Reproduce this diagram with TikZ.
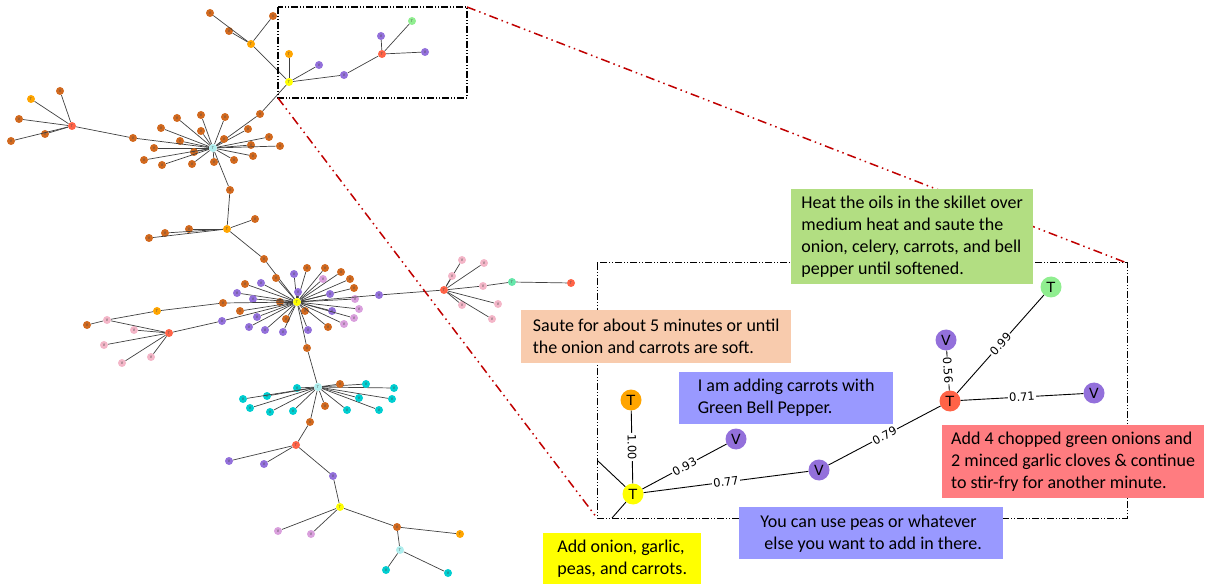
\documentclass[tikz,border=0pt]{standalone}
\usepackage{fontspec}
\setmainfont{Carlito}
\newfontfamily\djv{DejaVu Sans}
\usepackage{tikz}
\usetikzlibrary{calc}

\definecolor{brn}{RGB}{210,105,30}
\definecolor{pur}{RGB}{147,112,219}
\definecolor{pnk}{RGB}{244,182,200}
\definecolor{plm}{RGB}{218,160,221}
\definecolor{tea}{RGB}{0,206,209}
\definecolor{cya}{RGB}{175,238,238}
\definecolor{aqm}{RGB}{102,230,170}
\definecolor{org}{RGB}{255,165,0}
\definecolor{yel}{RGB}{255,255,0}
\definecolor{tom}{RGB}{255,99,71}
\definecolor{lgr}{RGB}{144,238,144}
\definecolor{boxgreen}{RGB}{178,222,130}
\definecolor{boxsalmon}{RGB}{248,203,173}
\definecolor{boxblue}{RGB}{153,153,255}
\definecolor{boxred}{RGB}{255,124,128}
\definecolor{zoomred}{RGB}{192,0,0}

\begin{document}
\begin{tikzpicture}[x=1pt, y=-1pt,
  dot/.style={circle, inner sep=0pt, minimum size=8pt, text=black!70, font=\djv\fontsize{3.5}{4}\selectfont},
  big/.style={circle, inner sep=0pt, minimum size=21pt, font=\djv\fontsize{14}{14}\selectfont},
  tie/.style={draw=black!75, line width=0.7pt},
  line/.style={draw=black, line width=0.9pt},
  weight/.style={sloped, fill=white, inner sep=1.2pt, font=\djv\fontsize{11.5}{12}\selectfont},
  note/.style={anchor=north west, align=left, inner xsep=9pt, font=\fontsize{18}{22}\selectfont},
  frame/.style={draw=black, line width=1pt, dash pattern=on 7pt off 2pt on 1pt off 2pt on 1pt off 2pt},
  zoomline/.style={draw=zoomred, line width=1.5pt, dash pattern=on 9pt off 4pt on 1.5pt off 4pt on 1.5pt off 4pt}]
  \useasboundingbox (0,0) rectangle (1208,585);

  \node[dot, fill=org] (oT1) at (251,44) {T};
  \node[dot, fill=brn] (b1) at (210,13) {V};
  \node[dot, fill=brn] (b2) at (229,31) {V};
  \node[dot, fill=brn] (b3) at (273,16) {V};
  \node[dot, fill=yel] (yT1) at (289,82) {T};
  \node[dot, fill=org] (oT0) at (289,54) {T};
  \node[dot, fill=pur] (p1) at (319,65) {V};
  \node[dot, fill=pur] (p2) at (344,75) {V};
  \node[dot, fill=tom] (rT1) at (382,54) {T};
  \node[dot, fill=pur] (p3) at (381,36) {V};
  \node[dot, fill=lgr] (gT1) at (412,21) {T};
  \node[dot, fill=pur] (p4) at (425,52) {V};
  \node[dot, fill=brn] (b4) at (260,114) {V};
  \node[dot, fill=cya] (cT1) at (213,148) {T};
  \path[tie] (oT1) edge (b1) edge (b2) edge (b3) edge (yT1)
    (yT1) edge (oT0) edge (p1) edge (p2) edge (b4)
    (p2) edge (rT1)
    (rT1) edge (p3) edge (gT1) edge (p4)
    (b4) edge (cT1);

  \foreach \x/\y [count=\i] in {177/118, 201/115, 225/117, 161/128, 201/131, 248/129,
      224/139, 180/141, 269/137, 251/145, 280/146, 154/148, 194/152, 234/160,
      253/156, 214/162, 144/160, 162/165, 192/164}
    {\node[dot, fill=brn] (ca\i) at (\x,\y) {V};
     \path[tie] (cT1) edge (ca\i);}

  \node[dot, fill=brn] (b5) at (133,138) {V};
  \node[dot, fill=tom] (rT2) at (72,126) {T};
  \node[dot, fill=org] (oT2a) at (31,99) {T};
  \node[dot, fill=brn] (b6) at (60,91) {V};
  \node[dot, fill=brn] (b7) at (19,119) {V};
  \node[dot, fill=brn] (b8) at (45,134) {V};
  \node[dot, fill=brn] (b9) at (11,141) {V};
  \path[tie] (cT1) edge (b5)
    (b5) edge (rT2)
    (rT2) edge (oT2a) edge (b6) edge (b7) edge (b8) edge (b9);

  \node[dot, fill=brn] (b10) at (230,190) {V};
  \node[dot, fill=org] (oT2) at (227,229) {T};
  \node[dot, fill=brn] (b11) at (255,219) {V};
  \node[dot, fill=brn] (b12) at (189,229) {V};
  \node[dot, fill=brn] (b13) at (165,233) {V};
  \node[dot, fill=brn] (b14) at (149,238) {V};
  \node[dot, fill=brn] (b15) at (264,259) {V};
  \node[dot, fill=yel] (yT2) at (297,302) {T};
  \path[tie] (cT1) edge (b10)
    (b10) edge (oT2)
    (oT2) edge (b11) edge (b12) edge (b13) edge (b14) edge (b15)
    (b15) edge (yT2);

  \foreach \x/\y [count=\i] in {276/278, 307/268, 325/268, 341/272, 350/279, 354/288,
      245/284, 280/302, 240/311, 286/319, 305/311, 328/327}
    {\node[dot, fill=brn] (ya\i) at (\x,\y) {V};
     \path[tie] (yT2) edge (ya\i);}
  \foreach \x/\y [count=\i] in {294/274, 261/283, 298/292, 330/294, 237/293, 253/299,
      257/317, 332/311, 308/330, 283/332, 265/330, 249/327}
    {\node[dot, fill=pur] (yb\i) at (\x,\y) {V};
     \path[tie] (yT2) edge (yb\i);}
  \foreach \x/\y [count=\i] in {323/279, 355/299, 359/309, 354/318, 344/324}
    {\node[dot, fill=plm] (yc\i) at (\x,\y) {V};
     \path[tie] (yT2) edge (yc\i);}

  \node[dot, fill=brn] (b16) at (223,303) {V};
  \node[dot, fill=org] (oT3) at (157,311) {T};
  \node[dot, fill=pnk] (k1) at (107,320) {V};
  \node[dot, fill=brn] (b17) at (87,325) {V};
  \node[dot, fill=tom] (rT3) at (169,333) {T};
  \node[dot, fill=pnk] (k2) at (134,330) {V};
  \node[dot, fill=pnk] (k3) at (104,345) {V};
  \node[dot, fill=pnk] (k4) at (122,363) {V};
  \node[dot, fill=pnk] (k5) at (151,357) {V};
  \node[dot, fill=pur] (p5) at (222,321) {V};
  \path[tie] (yT2) edge (b16) edge (p5)
    (b16) edge (oT3)
    (oT3) edge (k1)
    (k1) edge (b17) edge (rT3)
    (rT3) edge (k2) edge (k3) edge (k4) edge (k5) edge (p5);

  \node[dot, fill=pur] (p6) at (379,295) {V};
  \node[dot, fill=tom] (rT4) at (444,290) {T};
  \node[dot, fill=pnk] (k12) at (483,286) {V};
  \node[dot, fill=aqm] (aT) at (512,282) {T};
  \node[dot, fill=tom] (rT5) at (571,283) {T};
  \path[tie] (yT2) edge (p6)
    (p6) edge (rT4)
    (rT4) edge (k12)
    (k12) edge (aT)
    (aT) edge (rT5);
  \foreach \x/\y [count=\i] in {462/260, 484/263, 452/276, 462/305, 498/304, 492/319}
    {\node[dot, fill=pnk] (ra\i) at (\x,\y) {V};
     \path[tie] (rT4) edge (ra\i);}

  \node[dot, fill=brn] (b18) at (307,348) {V};
  \node[dot, fill=cya] (cT2) at (318,387) {T};
  \path[tie] (yT2) edge (b18)
    (b18) edge (cT2);
  \foreach \x/\y [count=\i] in {297/388, 267/396, 243/399, 250/408, 270/412, 293/411,
      347/410, 379/410, 359/398, 392/399, 394/388, 366/384}
    {\node[dot, fill=tea] (cb\i) at (\x,\y) {V};
     \path[tie] (cT2) edge (cb\i);}
  \node[dot, fill=brn] (b21) at (325,406) {V};
  \node[dot, fill=brn] (b22) at (340,384) {V};

  \node[dot, fill=brn] (b19) at (310,422) {V};
  \node[dot, fill=tom] (rT6) at (296,445) {T};
  \node[dot, fill=pur] (p7) at (229,461) {V};
  \node[dot, fill=pur] (p8) at (264,464) {V};
  \node[dot, fill=pur] (p9) at (333,476) {V};
  \node[dot, fill=yel] (yT3) at (340,507) {T};
  \node[dot, fill=plm] (l1) at (278,531) {V};
  \node[dot, fill=plm] (l2) at (311,534) {V};
  \node[dot, fill=brn] (b20) at (397,527) {V};
  \node[dot, fill=org] (oT4) at (460,534) {T};
  \node[dot, fill=cya] (cT3) at (400,550) {T};
  \node[dot, fill=tea] (t1) at (386,570) {V};
  \node[dot, fill=tea] (t2) at (448,573) {V};
  \path[tie] (cT2) edge (b21) edge (b22) edge (b19)
    (b19) edge (rT6)
    (rT6) edge (p7) edge (p8) edge (p9)
    (p9) edge (yT3)
    (yT3) edge (l1) edge (l2) edge (b20)
    (b20) edge (oT4) edge (cT3)
    (cT3) edge (t1) edge (t2);

  \coordinate (s-nw) at (278,7);
  \coordinate (s-ne) at (467,7);
  \coordinate (s-sw) at (278,98);
  \coordinate (s-se) at (467,98);
  \coordinate (l-nw) at (597,263);
  \coordinate (l-ne) at (1127,263);
  \coordinate (l-sw) at (597,518);
  \coordinate (l-se) at (1127,518);
  \draw[frame, line width=1.3pt] (s-nw) rectangle (s-se);
  \draw[frame] (l-nw) rectangle (l-se);
  \draw[zoomline] (s-ne) -- (l-ne);
  \draw[zoomline] (s-sw) -- (l-sw);

  \node[big, fill=yel] (Y) at (633,494) {T};
  \node[big, fill=org] (O) at (631,400) {T};
  \node[big, fill=pur] (V1) at (736,439) {V};
  \node[big, fill=pur] (V2) at (819,470) {V};
  \node[big, fill=tom] (R) at (950,401) {T};
  \node[big, fill=pur] (V3) at (946,340) {V};
  \node[big, fill=lgr] (G) at (1051,287) {T};
  \node[big, fill=pur] (V4) at (1094,393) {V};
  \coordinate (in1) at (598,461);
  \coordinate (in2) at (612,518);
  \path[line]
  (O) edge node[weight] {1.00} (Y)
  (Y) edge node[weight] {0.93} (V1)
      edge node[weight] {0.77} (V2)
      edge (in1)
      edge (in2)
  (V2) edge node[weight] {0.79} (R)
  (V3) edge node[weight] {0.56} (R)
  (R) edge node[weight] {0.99} (G)
      edge node[weight] {0.71} (V4);

  \node[note, fill=boxgreen, minimum width=242pt, minimum height=95pt] (heat) at (791,189)
    {Heat the oils in the skillet over\\medium heat and saute the\\onion, celery, carrots, and bell\\pepper until softened.};
  \node[note, fill=boxsalmon, minimum width=270pt, minimum height=53pt] (saute) at (521,310)
    {Saute for about 5 minutes or until\\the onion and carrots are soft.};
  \node[note, fill=boxblue, minimum width=214pt, minimum height=52pt] (adding) at (679,372)
    {I am adding carrots with\\Green Bell Pepper.};
  \node[note, fill=boxblue, minimum width=264pt, minimum height=52pt] (peas) at (739,507)
    {You can use peas or whatever\\\hspace{4pt}else you want to add in there.};
  \node[note, fill=boxred, minimum width=214pt, minimum height=73pt] (garlic) at (942,425)
    {Add 4 chopped green onions and\\2 minced garlic cloves \& continue\\to stir-fry for another minute.};
  \node[note, fill=yel, minimum width=158pt, minimum height=51pt] (onion) at (543,533)
    {Add onion, garlic,\\peas, and carrots.};
\end{tikzpicture}
\end{document}
